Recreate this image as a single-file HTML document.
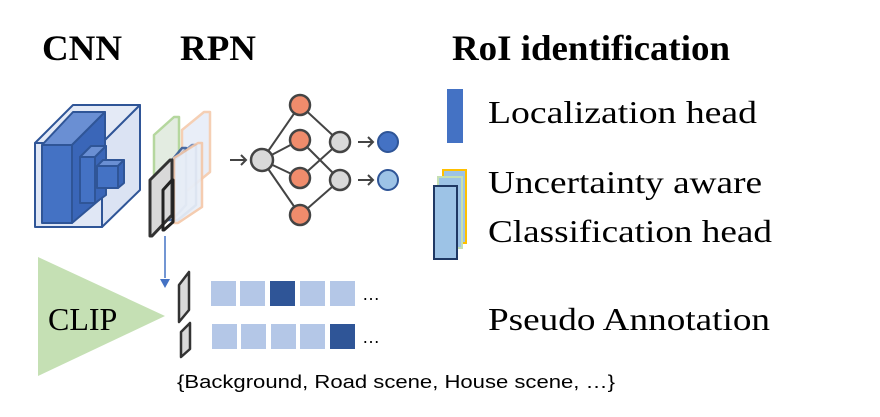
<!DOCTYPE html>
<html><head><meta charset="utf-8"><style>html,body{margin:0;padding:0;background:#fff}svg{display:block}</style></head>
<body>
<svg width="880" height="417" viewBox="0 0 880 417" xmlns="http://www.w3.org/2000/svg">
<g font-family="Liberation Serif, serif" fill="#000">
<text x="42" y="60" font-size="36" font-weight="bold" textLength="80" lengthAdjust="spacingAndGlyphs">CNN</text>
<text x="180" y="60" font-size="36" font-weight="bold" textLength="76" lengthAdjust="spacingAndGlyphs">RPN</text>
<text x="452" y="60" font-size="36" font-weight="bold" textLength="278" lengthAdjust="spacingAndGlyphs">RoI identification</text>
<text x="488" y="123" font-size="32" textLength="269" lengthAdjust="spacingAndGlyphs">Localization head</text>
<text x="488" y="193" font-size="32" textLength="274" lengthAdjust="spacingAndGlyphs">Uncertainty aware</text>
<text x="488" y="242" font-size="32" textLength="284" lengthAdjust="spacingAndGlyphs">Classification head</text>
<text x="488" y="330" font-size="32" textLength="282" lengthAdjust="spacingAndGlyphs">Pseudo Annotation</text>
</g>
<!-- CNN cube -->
<g stroke="#2f5597" stroke-width="2" stroke-linejoin="round">
<polygon points="35,143 73,105 140,105 102,143" fill="#e4eaf6"/>
<polygon points="102,143 140,105 140,190 102,227" fill="#dbe3f3"/>
<rect x="35" y="143" width="67" height="84" fill="#e0e7f5"/>
<polygon points="42,145 73,112 105,112 72,145" fill="#6a8fd3"/>
<polygon points="72,145 105,112 105,195 72,223" fill="#3a66b8"/>
<rect x="42" y="145" width="30" height="78" fill="#4472c4"/>
<polygon points="80,157 91,146 106,146 95,157" fill="#6a8fd3"/>
<polygon points="95,157 106,146 106,195 95,203" fill="#3a66b8"/>
<rect x="80" y="157" width="15" height="46" fill="#4472c4"/>
<polygon points="97,166 103,160 124,160 118,166" fill="#6a8fd3"/>
<polygon points="118,166 124,160 124,183 118,188" fill="#3a66b8"/>
<rect x="97" y="166" width="21" height="22" fill="#4472c4"/>
</g>
<!-- RPN feature planes -->
<g stroke-width="2.5" stroke-linejoin="round">
<polygon points="154,135 174,117 179,117 179,197 159,215 154,215" fill="#dfe9dc" stroke="#a9d18e" opacity="0.85"/>
<polygon points="182,130 204,112 210,112 210,172 188,190 182,190" fill="#e6ecf7" stroke="#f4c7a8" opacity="0.85"/>
<polygon points="168,165 182,148 186,148 186,205 172,220 168,220" fill="#d0dcf0" stroke="#2f5597" opacity="0.85"/>
<polygon points="174,160 192,145 196,145 196,205 178,220 174,220" fill="#e6ecf7" stroke="#2f5597" opacity="0.6"/>
<polygon points="174,158 198,143 202,143 202,207 178,223 174,223" fill="#e8eef7" stroke="#f4c7a8" opacity="0.9"/>
<polygon points="150,180 170,160 172,160 172,215 152,236 150,236" fill="#d9d9d9" stroke="#333" stroke-width="3"/>
<polygon points="163,190 172,180 173,180 173,222 164,230 163,230" fill="none" stroke="#222" stroke-width="3"/>
</g>
<line x1="165" y1="236" x2="165" y2="278" stroke="#4472c4" stroke-width="1.5"/>
<polygon points="160,279 170,279 165,288" fill="#4472c4"/>
<!-- network -->
<g stroke="#444" stroke-width="2" fill="none">
<line x1="262" y1="160" x2="300" y2="105"/><line x1="262" y1="160" x2="300" y2="140"/>
<line x1="262" y1="160" x2="300" y2="178"/><line x1="262" y1="160" x2="300" y2="215"/>
<line x1="300" y1="105" x2="340" y2="142"/><line x1="300" y1="140" x2="340" y2="180"/>
<line x1="300" y1="178" x2="340" y2="142"/><line x1="300" y1="215" x2="340" y2="180"/>
<line x1="230" y1="160" x2="246" y2="160"/><polyline points="241,155 246,160 241,165"/>
<line x1="358" y1="142" x2="373" y2="142"/><polyline points="368,137 373,142 368,147"/>
<line x1="358" y1="180" x2="373" y2="180"/><polyline points="368,175 373,180 368,185"/>
</g>
<g stroke="#444" stroke-width="2.5">
<circle cx="262" cy="160" r="11" fill="#d9d9d9"/>
<circle cx="300" cy="105" r="10" fill="#f08c6c"/>
<circle cx="300" cy="140" r="10" fill="#f08c6c"/>
<circle cx="300" cy="178" r="10" fill="#f08c6c"/>
<circle cx="300" cy="215" r="10" fill="#f08c6c"/>
<circle cx="340" cy="142" r="10" fill="#d9d9d9"/>
<circle cx="340" cy="180" r="10" fill="#d9d9d9"/>
</g>
<circle cx="388" cy="142" r="10" fill="#4472c4" stroke="#2f5597" stroke-width="2"/>
<circle cx="388" cy="180" r="10" fill="#9dc3e6" stroke="#2f5597" stroke-width="2"/>
<!-- heads -->
<rect x="447" y="89" width="16" height="54" fill="#4472c4"/>
<rect x="443" y="170" width="23" height="73" fill="#9dc3e6" stroke="#ffc000" stroke-width="2"/>
<rect x="438" y="177" width="24" height="71" fill="#9dc3e6" stroke="#c5e0b4" stroke-width="2"/>
<rect x="434" y="186" width="23" height="73" fill="#9dc3e6" stroke="#1f3864" stroke-width="2"/>
<!-- CLIP -->
<polygon points="38,257 38,376 165,316" fill="#c5e0b4"/>
<text x="48" y="330" font-family="Liberation Serif, serif" font-size="32">CLIP</text>
<polygon points="179,285 189,272 189,310 179,322" fill="#d9d9d9" stroke="#333" stroke-width="2.5" stroke-linejoin="round"/>
<polygon points="181,332 190,323 190,349 181,357" fill="#d9d9d9" stroke="#333" stroke-width="2.5" stroke-linejoin="round"/>
<g fill="#b4c7e7">
<rect x="211" y="281" width="25" height="25"/><rect x="240" y="281" width="25" height="25"/>
<rect x="270" y="281" width="25" height="25" fill="#2f5597"/><rect x="300" y="281" width="25" height="25"/>
<rect x="330" y="281" width="25" height="25"/>
<rect x="212" y="324" width="25" height="25"/><rect x="241" y="324" width="25" height="25"/>
<rect x="271" y="324" width="25" height="25"/><rect x="300" y="324" width="25" height="25"/>
<rect x="330" y="324" width="25" height="25" fill="#2f5597"/>
</g>
<text x="362" y="300" font-family="Liberation Sans, sans-serif" font-size="18">…</text>
<text x="362" y="343" font-family="Liberation Sans, sans-serif" font-size="18">…</text>
<text x="177" y="388" font-family="Liberation Sans, sans-serif" font-size="18" textLength="438" lengthAdjust="spacingAndGlyphs">{Background, Road scene, House scene, …}</text>
</svg>
</body></html>
